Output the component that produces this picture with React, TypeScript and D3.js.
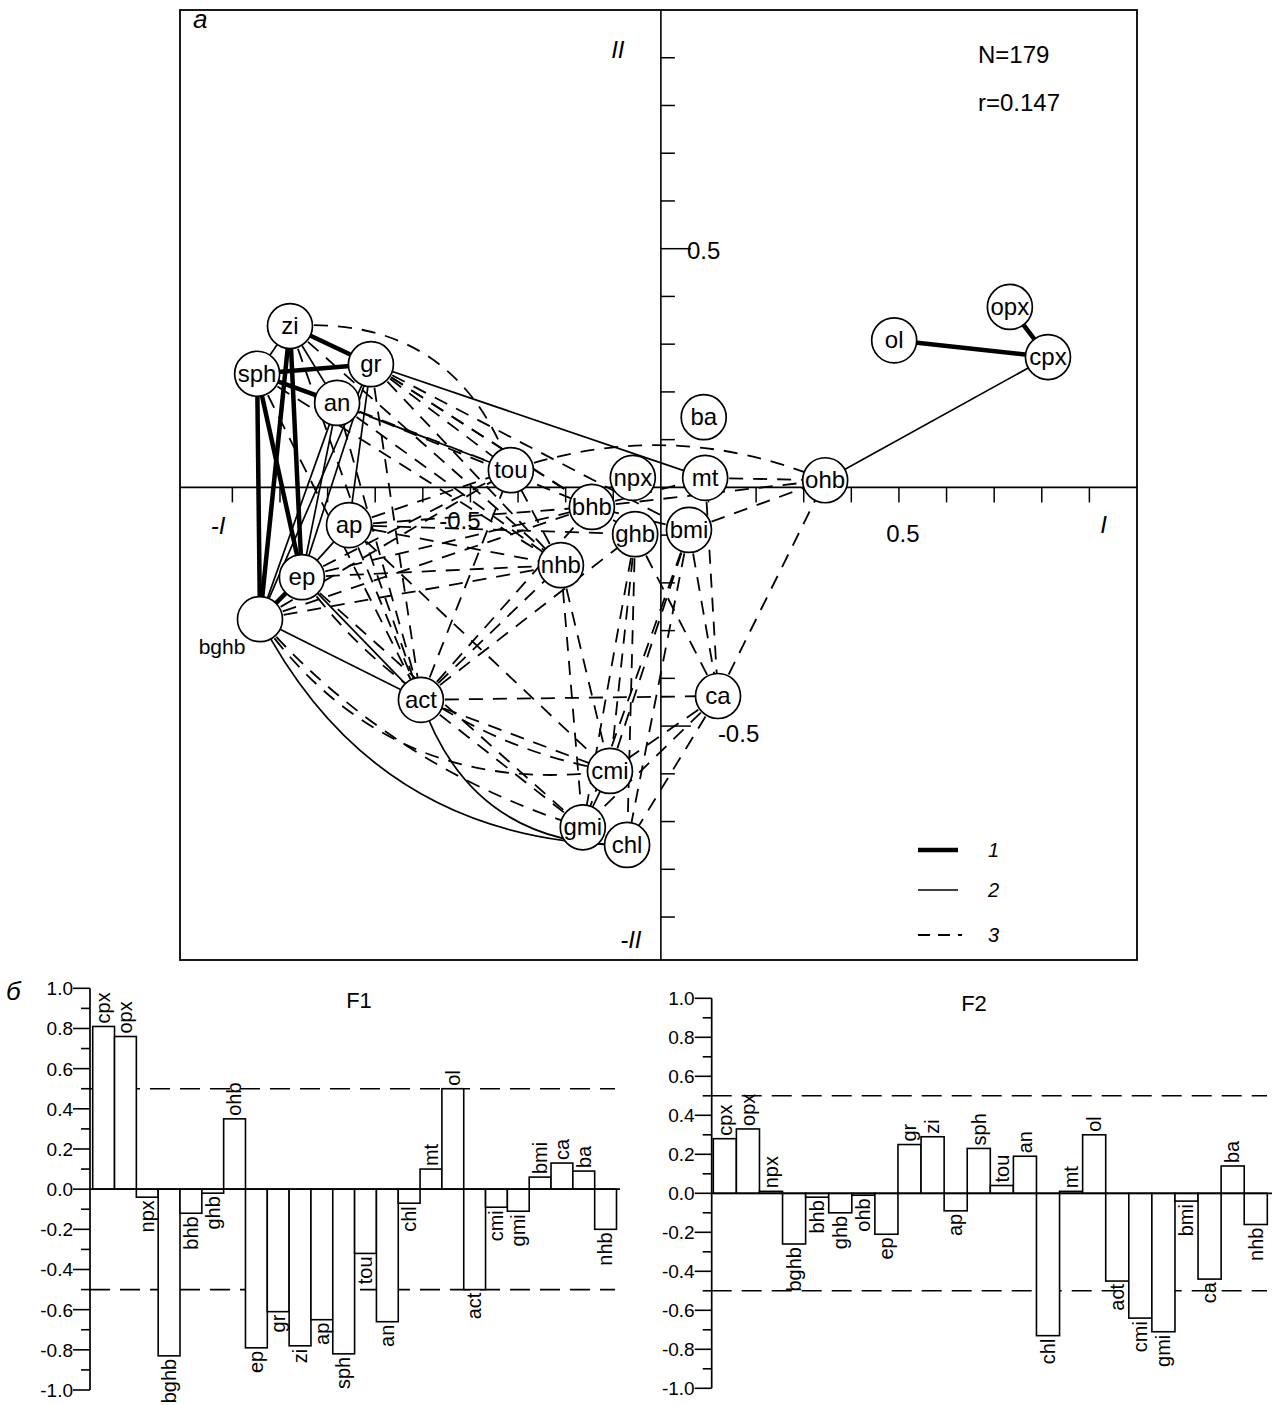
import React from "react";
import * as d3 from "d3";

// minerals in the order of the loading histograms
const minerals = ["cpx", "opx", "npx", "bghb", "bhb", "ghb", "ohb", "ep", "gr", "zi", "ap", "sph", "tou", "an", "chl", "mt", "ol", "act", "cmi", "gmi", "bmi", "ca", "ba", "nhb"];
const loadingF1 = [0.81, 0.76, -0.04, -0.83, -0.12, -0.02, 0.35, -0.79, -0.61, -0.78, -0.65, -0.82, -0.32, -0.66, -0.07, 0.10, 0.50, -0.50, -0.09, -0.11, 0.06, 0.13, 0.09, -0.20];
const loadingF2 = [0.28, 0.33, 0.01, -0.26, -0.02, -0.10, -0.01, -0.21, 0.25, 0.29, -0.09, 0.23, 0.04, 0.19, -0.73, 0.01, 0.30, -0.45, -0.64, -0.71, -0.04, -0.44, 0.14, -0.16];

// where each circle is drawn on the I-II plane (moved a bit off the loadings where circles would overlap)
const planeI = [0.813, 0.733, -0.059, -0.842, -0.145, -0.054, 0.345, -0.754, -0.609, -0.779, -0.655, -0.848, -0.315, -0.680, -0.071, 0.093, 0.490, -0.504, -0.107, -0.164, 0.059, 0.120, 0.090, -0.210];
const planeII = [0.273, 0.378, 0.020, -0.276, -0.041, -0.098, 0.015, -0.188, 0.258, 0.338, -0.079, 0.238, 0.036, 0.177, -0.749, 0.020, 0.308, -0.445, -0.594, -0.712, -0.089, -0.437, 0.147, -0.163];

// correlation links: [from, to, bend]
const strongLinks = [
  ["zi", "gr"], ["sph", "gr"], ["zi", "ep"], ["zi", "bghb"], ["sph", "bghb"], ["sph", "ep"],
  ["ep", "bghb"], ["sph", "an"], ["ol", "cpx"], ["opx", "cpx"],
];
const mediumLinks = [
  ["zi", "sph"], ["zi", "an"], ["gr", "mt"], ["gr", "ep"], ["gr", "bghb"], ["an", "ep"],
  ["an", "bghb"], ["gr", "ap"], ["ap", "ep"], ["cpx", "ohb"], ["bghb", "act"], ["ep", "act"],
  ["act", "chl", 0.36], ["bghb", "chl", 0.3], ["cmi", "gmi"],
];
const weakLinks = [
  ["zi", "tou", -0.38], ["tou", "ohb", -0.19],
  ["gr", "tou"], ["gr", "nhb"], ["gr", "bhb"], ["gr", "act"], ["gr", "ghb"], ["gr", "bmi"],
  ["an", "tou"], ["an", "nhb"], ["an", "act"], ["an", "bhb"],
  ["zi", "nhb"], ["zi", "act"], ["sph", "act"], ["sph", "tou"], ["sph", "nhb"],
  ["ap", "tou"], ["ap", "bhb"], ["ap", "nhb"], ["ap", "act"], ["ap", "cmi"], ["ap", "ghb"],
  ["ep", "tou"], ["ep", "nhb"], ["ep", "bhb"], ["ep", "cmi", 0.2], ["ep", "gmi"],
  ["bghb", "tou"], ["bghb", "nhb"], ["bghb", "bhb"], ["bghb", "cmi", 0.3], ["bghb", "gmi", 0.14],
  ["act", "ca"], ["act", "nhb"], ["act", "tou"], ["act", "ghb"], ["act", "cmi"], ["act", "gmi"], ["act", "bhb"],
  ["nhb", "cmi"], ["nhb", "tou"], ["nhb", "gmi"],
  ["bhb", "ohb"], ["bhb", "mt"],
  ["ghb", "cmi"], ["ghb", "gmi"], ["ghb", "ca"], ["ghb", "chl"],
  ["bmi", "ca"], ["bmi", "cmi"], ["bmi", "gmi"], ["bmi", "chl"], ["bmi", "ohb"], ["bmi", "bhb"],
  ["mt", "ohb"], ["mt", "ca"],
  ["ca", "ohb"], ["ca", "chl"], ["ca", "cmi"], ["ca", "gmi"],
];

const FONT = "'Liberation Sans', Arial, Helvetica, sans-serif";
const R = 22.5;

const planeX = d3.scaleLinear().domain([-1.01, 1]).range([180, 1137]);
const planeY = d3.scaleLinear().domain([-0.99, 1]).range([960, 10]);

function FactorPlane() {
  const pos = new Map(minerals.map((m, i) => [m, [planeX(planeI[i]), planeY(planeII[i])]]));
  const linkPath = (l) => {
    const [x1, y1] = pos.get(l[0]);
    const [x2, y2] = pos.get(l[1]);
    const bend = l[2] || 0;
    if (!bend) return `M${x1},${y1}L${x2},${y2}`;
    const cx = (x1 + x2) / 2 - (y2 - y1) * bend;
    const cy = (y1 + y2) / 2 + (x2 - x1) * bend;
    return `M${x1},${y1}Q${cx},${cy} ${x2},${y2}`;
  };
  const x0 = planeX(0), y0 = planeY(0);
  const [left, right] = planeX.range();
  const [bottom, top] = planeY.range();
  const ticks = d3.range(-9, 10).filter(i => i !== 0).map(i => i / 10);
  const italic = { fontStyle: "italic", fontSize: 24 };

  return (
    <g fontFamily={FONT} fill="none" stroke="#000">
      <rect x={left} y={top} width={right - left} height={bottom - top} strokeWidth={1.8} />
      <line x1={left} x2={right} y1={y0} y2={y0} strokeWidth={1.6} />
      <line x1={x0} x2={x0} y1={top} y2={bottom} strokeWidth={1.6} />
      {ticks.map(t => (
        <line key={"tx" + t} x1={planeX(t)} x2={planeX(t)} y1={y0} y2={y0 + 15} strokeWidth={1.5} />
      ))}
      {ticks.map(t => (
        <line key={"ty" + t} x1={x0} x2={x0 + (Math.abs(t) === 0.5 ? 30 : 14)} y1={planeY(t)} y2={planeY(t)} strokeWidth={1.5} />
      ))}

      {weakLinks.map((l, i) => (
        <path key={"w" + i} d={linkPath(l)} strokeWidth={1.8} strokeDasharray="14 10" />
      ))}
      {mediumLinks.map((l, i) => (
        <path key={"m" + i} d={linkPath(l)} strokeWidth={1.7} />
      ))}
      {strongLinks.map((l, i) => (
        <path key={"s" + i} d={linkPath(l)} strokeWidth={4.5} />
      ))}

      {minerals.map(m => {
        const [cx, cy] = pos.get(m);
        return <circle key={"c" + m} cx={cx} cy={cy} r={R} fill="#fff" strokeWidth={1.7} />;
      })}
      <g fill="#000" stroke="none" fontSize={24} textAnchor="middle">
        {minerals.map(m => {
          const [cx, cy] = pos.get(m);
          if (m === "bghb") return <text key={"t" + m} x={cx - 38} y={cy + 35} fontSize={21}>{m}</text>;
          return <text key={"t" + m} x={cx} y={cy + 8}>{m}</text>;
        })}
      </g>

      <g fill="#000" stroke="none" fontSize={24}>
        <text x={planeX(0.5) + 4} y={y0 + 55} textAnchor="middle">0.5</text>
        <text x={planeX(-0.5) + 37} y={y0 + 42} textAnchor="middle">-0.5</text>
        <text x={x0 + 26} y={planeY(0.5) + 10}>0.5</text>
        <text x={x0 + 57} y={planeY(-0.5) + 16}>-0.5</text>
        <text x={planeX(0.93)} y={y0 + 46} textAnchor="middle" {...italic}>I</text>
        <text x={planeX(-0.93)} y={y0 + 47} textAnchor="middle" {...italic}>-I</text>
        <text x={x0 - 43} y={top + 48} textAnchor="middle" {...italic}>II</text>
        <text x={x0 - 30} y={bottom - 12} textAnchor="middle" {...italic}>-II</text>
        <text x={left + 13} y={top + 18} fontSize={26} fontStyle="italic">а</text>
        <text x={978} y={63}>N=179</text>
        <text x={978} y={111}>r=0.147</text>
      </g>

      <line x1={918} x2={958} y1={850} y2={850} strokeWidth={4.5} />
      <line x1={918} x2={958} y1={890} y2={890} strokeWidth={1.7} />
      <line x1={918} x2={962} y1={935} y2={935} strokeWidth={1.8} strokeDasharray="12 8" />
      <g fill="#000" stroke="none" fontSize={20} fontStyle="italic">
        <text x={988} y={857}>1</text>
        <text x={988} y={897}>2</text>
        <text x={988} y={942}>3</text>
      </g>
    </g>
  );
}

const fmt = (v) => (Math.abs(v) < 1e-9 ? 0 : v).toFixed(1);

function LoadingBars({ values, axisX, yRange, band, lineEnd, title, titleX, titleY }) {
  const y = d3.scaleLinear().domain([-1, 1]).range(yRange);
  const x = d3.scaleBand().domain(minerals).range(band).padding(0);
  const ticks = d3.range(-10, 11).map(i => i / 10);
  const y0 = y(0);
  const fs = 20;
  return (
    <g fontFamily={FONT} stroke="#000" fill="none">
      <line x1={axisX} x2={axisX} y1={y(1)} y2={y(-1)} strokeWidth={1.7} />
      {ticks.map((t, i) => (
        <line key={"k" + i} x1={axisX - (i % 2 === 0 ? 17 : 9)} x2={axisX} y1={y(t)} y2={y(t)} strokeWidth={1.6} />
      ))}
      <g fill="#000" stroke="none" fontSize={19} textAnchor="end">
        {ticks.filter((t, i) => i % 2 === 0).map((t, i) => (
          <text key={"l" + i} x={axisX - 17} y={y(t) + 7}>{fmt(t)}</text>
        ))}
      </g>
      {[0.5, -0.5].map(t => (
        <line key={"d" + t} x1={axisX} x2={lineEnd - 5} y1={y(t)} y2={y(t)} strokeWidth={1.6} strokeDasharray="20 10" />
      ))}
      {minerals.map((m, i) => {
        const v = values[i];
        return (
          <rect key={"b" + m} x={x(m)} y={Math.min(y(v), y0)} width={x.bandwidth()} height={Math.abs(y(v) - y0)}
            fill="#fff" strokeWidth={1.6} />
        );
      })}
      <line x1={axisX} x2={lineEnd} y1={y0} y2={y0} strokeWidth={1.7} />
      <g fill="#000" stroke="none" fontSize={fs}>
        {minerals.map((m, i) => {
          const v = values[i];
          const cx = x(m) + x.bandwidth() / 2 + fs * 0.34;
          const ly = v > 0 ? y(v) - 3 : y(Math.min(v, 0)) + 3;
          return (
            <text key={"t" + m} transform={`translate(${cx},${ly}) rotate(-90)`} textAnchor={v > 0 ? "start" : "end"}>{m}</text>
          );
        })}
      </g>
      <text x={titleX} y={titleY} fill="#000" stroke="none" fontSize={22} textAnchor="middle">{title}</text>
    </g>
  );
}

export default function App() {
  return (
    <svg width={1275} height={1405} style={{ position: "absolute", left: 0, top: 0, background: "#fff" }}>
      <rect width={1275} height={1405} fill="#fff" />
      <FactorPlane />
      <text x={6} y={1000} fontFamily={FONT} fontSize={26} fontStyle="italic">б</text>
      <LoadingBars values={loadingF1} axisX={90} yRange={[1390, 988.3]} band={[92.7, 616.5]} lineEnd={620}
        title="F1" titleX={359} titleY={1008} />
      <LoadingBars values={loadingF2} axisX={711.7} yRange={[1388.3, 998.3]} band={[713.3, 1267.3]} lineEnd={1272}
        title="F2" titleX={974} titleY={1011} />
    </svg>
  );
}
